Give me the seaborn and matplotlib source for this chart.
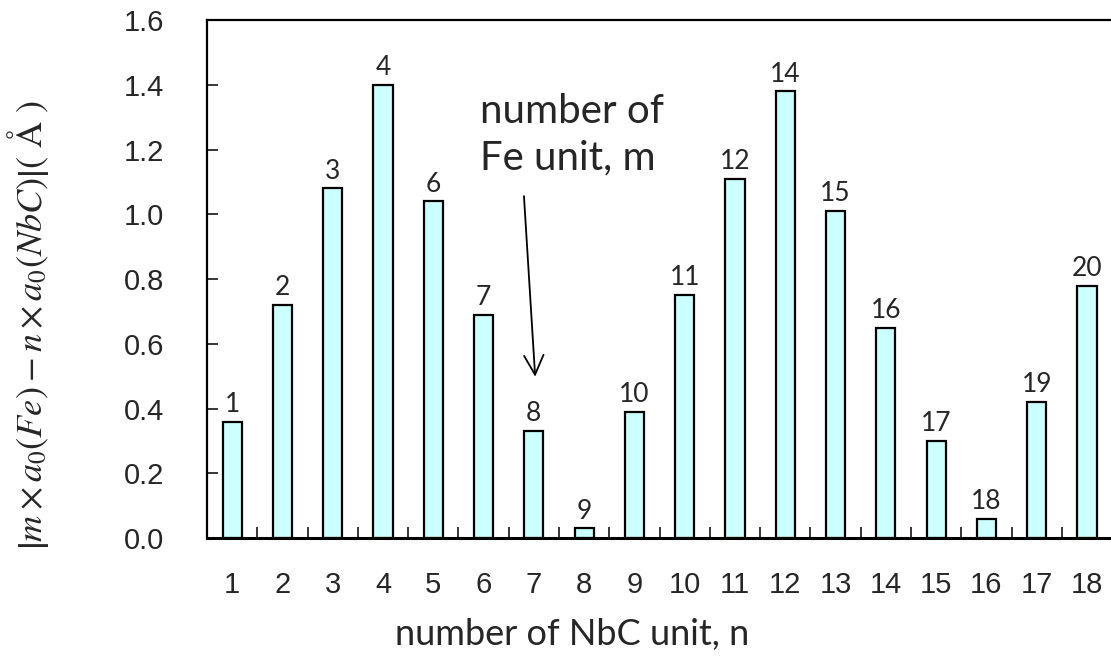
import matplotlib
matplotlib.use("Agg")
import matplotlib.pyplot as plt
import seaborn as sns
import pandas as pd
import numpy as np

# Data
n_units = [str(i) for i in range(1, 19)]
deviation = [0.36, 0.72, 1.08, 1.40, 1.04, 0.69, 0.33, 0.03, 0.39,
             0.75, 1.11, 1.38, 1.01, 0.65, 0.30, 0.06, 0.42, 0.78]
m_units = ["1", "2", "3", "4", "6", "7", "8", "9", "10", "11", "12",
           "14", "15", "16", "17", "18", "19", "20"]
y_ticks = [0.0, 0.2, 0.4, 0.6, 0.8, 1.0, 1.2, 1.4, 1.6]

df = pd.DataFrame({"n": n_units, "dev": deviation, "m": m_units})

sns.set_style("white")
plt.rcParams["mathtext.fontset"] = "stix"
plt.rcParams["font.family"] = ["Liberation Sans", "DejaVu Sans"]

fig = plt.figure(figsize=(11.11, 6.71), dpi=100)
ax = fig.add_axes([0.1863, 0.198, 0.8147, 0.772])

sns.barplot(data=df, x="n", y="dev", color="#CCFFFF", saturation=1,
            edgecolor="black", linewidth=1.6, width=0.38, ax=ax)

ax.set_ylim(0, 1.6)
ax.set_xlim(-0.5, 17.5)
ax.set_yticks(y_ticks)
ax.set_yticklabels([f"{v:.1f}" for v in y_ticks], fontsize=21)
ax.tick_params(axis="y", direction="in", length=8, width=1.3, pad=31, left=True)
ax.tick_params(axis="x", which="major", length=0, pad=24, labelsize=21)
ax.set_xticks(np.arange(-0.5, 18, 1.0), minor=True)
ax.tick_params(axis="x", which="minor", direction="in", length=8, width=1.3, bottom=True)
for lbl in ax.get_xticklabels():
    lbl.set_family(["Liberation Sans Narrow", "Liberation Sans", "DejaVu Sans"])

for side in ["left", "bottom", "top", "right"]:
    ax.spines[side].set_linewidth(1.6)
    ax.spines[side].set_color("black")
ax.spines["bottom"].set_linewidth(2.2)

# m labels above bars
for i, (v, m) in enumerate(zip(deviation, m_units)):
    ax.text(i, v + 0.015, m, ha="center", va="bottom", fontsize=19,
            family=["Lato", "DejaVu Sans"])

ax.set_xlabel("number of NbC unit, n", fontsize=26, family=["Lato", "DejaVu Sans"])
ax.xaxis.set_label_coords(0.403, -0.155)
ax.set_ylabel(r"$\left|m\times a_0(Fe)-n\times a_0(NbC)\right|$( Å )", fontsize=26,
              family=["STIXGeneral", "DejaVu Serif"])
ax.yaxis.set_label_coords(-0.172, 0.411)

ax.text(4.93, 1.375, "number of\nFe unit, m", ha="left", va="top", fontsize=29,
        family=["Lato", "DejaVu Sans"], linespacing=1.3)
ax.annotate("", xy=(6.03, 0.49), xytext=(5.8, 1.065),
            arrowprops=dict(arrowstyle="->", color="black", lw=1.3,
                            mutation_scale=35))

fig.savefig("out.png", dpi=100)
